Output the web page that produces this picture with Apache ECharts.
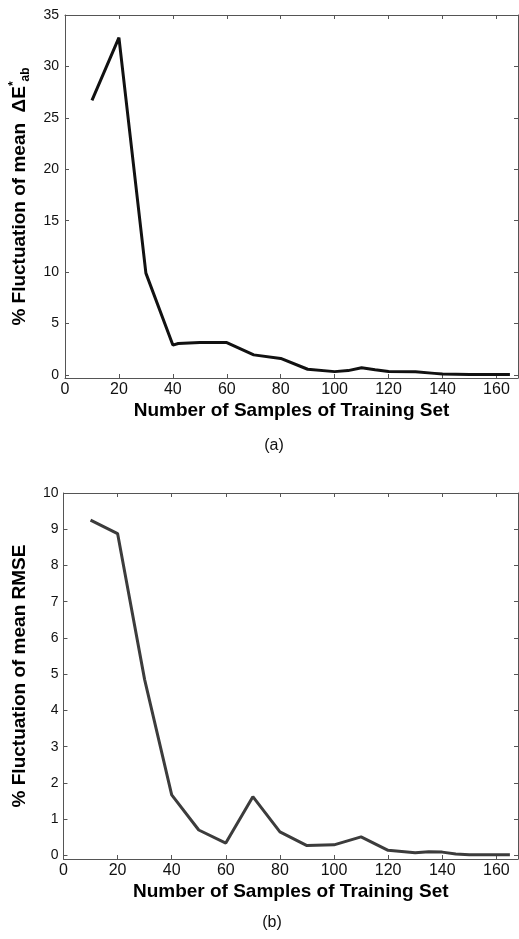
<!DOCTYPE html>
<html>
<head>
<meta charset="utf-8">
<script src="https://cdn.jsdelivr.net/npm/echarts@6/dist/echarts.min.js"></script>
<style>
html, body { margin: 0; padding: 0; background: #fff; }
#main { width: 519px; height: 939px; }
</style>
</head>
<body>
<div id="main"></div>
<script>
// tick labels
var xTicks = [0, 20, 40, 60, 80, 100, 120, 140, 160];
var yTicksA = [0, 5, 10, 15, 20, 25, 30, 35];
var yTicksB = [0, 1, 2, 3, 4, 5, 6, 7, 8, 9, 10];

// (a) % fluctuation of mean dE*ab
var samplesA = [10, 20, 30, 40, 42, 50, 60, 70, 80, 90, 100, 105, 110, 115, 120, 130, 137, 140, 150, 160, 165];
var fluctA = [26.7, 32.8, 9.9, 2.9, 3.05, 3.15, 3.15, 1.95, 1.6, 0.55, 0.32, 0.42, 0.7, 0.5, 0.33, 0.3, 0.15, 0.08, 0.05, 0.05, 0.05];

// (b) % fluctuation of mean RMSE
var samplesB = [10, 20, 30, 40, 50, 60, 70, 80, 90, 100, 110, 120, 130, 135, 140, 145, 150, 160, 165];
var fluctB = [9.25, 8.88, 4.85, 1.67, 0.7, 0.34, 1.62, 0.65, 0.27, 0.29, 0.51, 0.14, 0.07, 0.1, 0.09, 0.04, 0.02, 0.02, 0.02];

var xTitle = 'Number of Samples of Training Set';
var font = 'Liberation Sans, Arial, sans-serif';
var frame = { show: true, onZero: false, lineStyle: { color: '#555', width: 1 } };

function pairs(xs, ys) {
  return xs.map(function (x, i) { return [x, ys[i]]; });
}

function xAx(grid, pos, name, gap) {
  return {
    type: 'value', gridIndex: grid, position: pos, min: 0, max: 168,
    axisLine: frame,
    axisTick: { show: true, inside: true, length: 4, customValues: xTicks, lineStyle: { color: '#555' } },
    axisLabel: { show: pos === 'bottom', customValues: xTicks, fontSize: 16, color: '#111', fontFamily: font, margin: 4 },
    splitLine: { show: false },
    name: name, nameLocation: 'middle', nameGap: gap,
    nameTextStyle: { fontSize: 19, fontWeight: 'bold', color: '#000', fontFamily: font, lineHeight: 24 }
  };
}

function yAx(grid, pos, min, max, ticks, name, gap, margin) {
  return {
    type: 'value', gridIndex: grid, position: pos, min: min, max: max,
    axisLine: frame,
    axisTick: { show: true, inside: true, length: 4, customValues: ticks, lineStyle: { color: '#555' } },
    axisLabel: { show: pos === 'left', customValues: ticks, fontSize: 14, color: '#111', fontFamily: font, margin: margin },
    splitLine: { show: false },
    name: name, nameLocation: 'middle', nameGap: gap,
    nameTextStyle: {
      fontSize: 19, fontWeight: 'bold', color: '#000', fontFamily: font, lineHeight: 24,
      rich: {
        sup: { fontSize: 12, fontWeight: 'bold', color: '#000', fontFamily: font, verticalAlign: 'top' },
        sub: { fontSize: 12, fontWeight: 'bold', color: '#000', fontFamily: font, verticalAlign: 'bottom' }
      }
    }
  };
}

echarts.init(document.getElementById('main')).setOption({
  animation: false,
  backgroundColor: '#fff',
  grid: [
    { left: 62, top: 15, right: 1, height: 363 },
    { left: 56, top: 493, right: 1, height: 366 }
  ],
  xAxis: [
    xAx(0, 'bottom', xTitle, 19),
    xAx(0, 'top', '', 0),
    xAx(1, 'bottom', xTitle, 17),
    xAx(1, 'top', '', 0)
  ],
  yAxis: [
    yAx(0, 'left', -0.3, 35, yTicksA, '% Fluctuation of mean  \u0394E{sup|*}{sub|ab}', 33, 6),
    yAx(0, 'right', -0.3, 35, yTicksA, '', 0, 0),
    yAx(1, 'left', -0.1, 10, yTicksB, '% Fluctuation of mean RMSE', 27, 5),
    yAx(1, 'right', -0.1, 10, yTicksB, '', 0, 0)
  ],
  series: [
    {
      type: 'line', xAxisIndex: 0, yAxisIndex: 0, symbol: 'none',
      lineStyle: { color: '#111', width: 3 },
      data: pairs(samplesA, fluctA)
    },
    {
      type: 'line', xAxisIndex: 2, yAxisIndex: 2, symbol: 'none',
      lineStyle: { color: '#3c3c3c', width: 3 },
      data: pairs(samplesB, fluctB)
    }
  ],
  graphic: [
    { type: 'text', x: 274, y: 446, style: { text: '(a)', fontSize: 16, fill: '#111', fontFamily: font, align: 'center', verticalAlign: 'middle' } },
    { type: 'text', x: 272, y: 923, style: { text: '(b)', fontSize: 16, fill: '#111', fontFamily: font, align: 'center', verticalAlign: 'middle' } }
  ]
});
</script>
</body>
</html>
